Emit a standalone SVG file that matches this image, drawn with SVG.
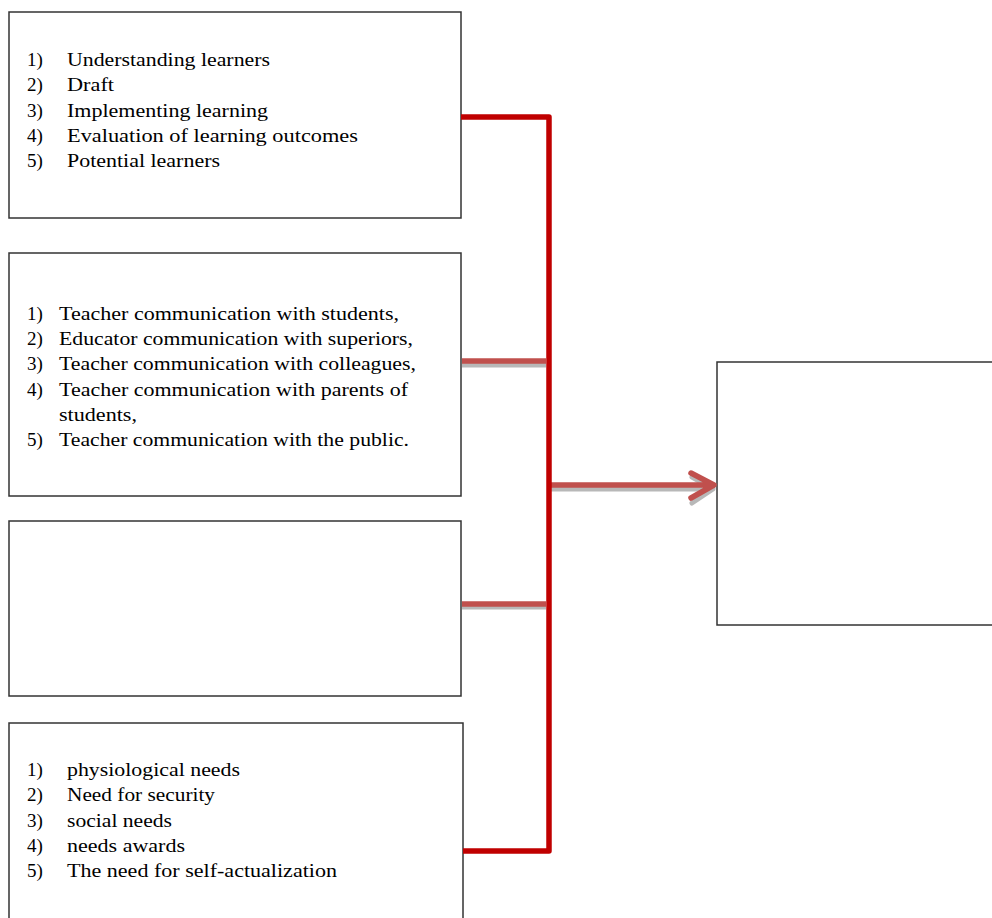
<svg xmlns="http://www.w3.org/2000/svg" width="992" height="918" viewBox="0 0 992 918">
<style>
.box{fill:#fff;stroke:#333;stroke-width:1.5}
.t{font-family:"Liberation Serif","Times New Roman",serif;font-size:19px;fill:#000}
.main{fill:none;stroke:#C00000;stroke-width:5.5;stroke-linejoin:round}
.sub{fill:none;stroke:#C0504D;stroke-width:5.5}
.shadow{fill:none;stroke:#9a9a9a;stroke-width:5;opacity:0.7}
</style>
<rect width="992" height="918" fill="#fff"/>
<g id="node1">
<rect class="box" x="9" y="12" width="452" height="206"/>
<text class="t" x="27" y="66">1)</text><text class="t" x="67" y="66" textLength="203" lengthAdjust="spacingAndGlyphs">Understanding learners</text>
<text class="t" x="27" y="91">2)</text><text class="t" x="67" y="91" textLength="47" lengthAdjust="spacingAndGlyphs">Draft</text>
<text class="t" x="27" y="117">3)</text><text class="t" x="67" y="117" textLength="201" lengthAdjust="spacingAndGlyphs">Implementing learning</text>
<text class="t" x="27" y="142">4)</text><text class="t" x="67" y="142" textLength="291" lengthAdjust="spacingAndGlyphs">Evaluation of learning outcomes</text>
<text class="t" x="27" y="167">5)</text><text class="t" x="67" y="167" textLength="153" lengthAdjust="spacingAndGlyphs">Potential learners</text>
</g>
<g id="node2">
<rect class="box" x="9" y="253" width="452" height="243"/>
<text class="t" x="27" y="320">1)</text><text class="t" x="59" y="320" textLength="340" lengthAdjust="spacingAndGlyphs">Teacher communication with students,</text>
<text class="t" x="27" y="345">2)</text><text class="t" x="59" y="345" textLength="354" lengthAdjust="spacingAndGlyphs">Educator communication with superiors,</text>
<text class="t" x="27" y="370">3)</text><text class="t" x="59" y="370" textLength="357" lengthAdjust="spacingAndGlyphs">Teacher communication with colleagues,</text>
<text class="t" x="27" y="396">4)</text><text class="t" x="59" y="396" textLength="349" lengthAdjust="spacingAndGlyphs">Teacher communication with parents of</text>
<text class="t" x="59" y="421" textLength="78" lengthAdjust="spacingAndGlyphs">students,</text>
<text class="t" x="27" y="446">5)</text><text class="t" x="59" y="446" textLength="350" lengthAdjust="spacingAndGlyphs">Teacher communication with the public.</text>
</g>
<g id="node3">
<rect class="box" x="9" y="521" width="452" height="175"/>
</g>
<g id="node4">
<rect class="box" x="9" y="723" width="454" height="200"/>
<text class="t" x="27" y="776">1)</text><text class="t" x="67" y="776" textLength="173" lengthAdjust="spacingAndGlyphs">physiological needs</text>
<text class="t" x="27" y="801">2)</text><text class="t" x="67" y="801" textLength="148" lengthAdjust="spacingAndGlyphs">Need for security</text>
<text class="t" x="27" y="827">3)</text><text class="t" x="67" y="827" textLength="105" lengthAdjust="spacingAndGlyphs">social needs</text>
<text class="t" x="27" y="852">4)</text><text class="t" x="67" y="852" textLength="118" lengthAdjust="spacingAndGlyphs">needs awards</text>
<text class="t" x="27" y="877">5)</text><text class="t" x="67" y="877" textLength="270" lengthAdjust="spacingAndGlyphs">The need for self-actualization</text>
</g>
<g id="node5">
<rect class="box" x="717" y="362" width="290" height="263"/>
</g>
<g id="connectors">
<line class="shadow" x1="462" y1="365" x2="546" y2="365"/>
<line class="sub" x1="462" y1="361" x2="546" y2="361"/>
<line class="shadow" x1="462" y1="607" x2="546" y2="607"/>
<line class="sub" x1="462" y1="604" x2="546" y2="604"/>
<path class="shadow" d="M551 489 H711 M692 477 L713 489 L692 503" stroke-width="6.5" stroke-linecap="round" stroke-linejoin="round"/>
<path class="sub" d="M551 485 H711 M691 473 L714 485 L691 498" stroke-width="6.5" stroke-linecap="round" stroke-linejoin="round"/>
<path class="main" d="M461 117 H549 V851 H463"/>
</g>
</svg>
